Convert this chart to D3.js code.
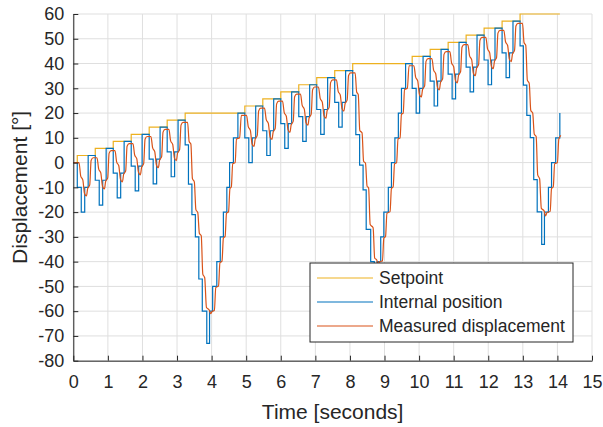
<!DOCTYPE html>
<html lang="en">
<head>
<meta charset="UTF-8">
<title>Displacement vs time</title>
<script src="https://d3js.org/d3.v7.min.js"></script>
<style>
  body { margin: 0; background: #fff; }
  svg text { font-family: "Liberation Sans", Arial, Helvetica, sans-serif; fill: #262626; }
  .grid line { stroke: #dfdfdf; stroke-width: 1; }
  .series { fill: none; stroke-width: 1.2; }
  .axis path, .axis line { stroke: #262626; }
</style>
</head>
<body>
<svg id="chart" width="603" height="427"></svg>
<script>
// tick values
const xTicks = [0, 1, 2, 3, 4, 5, 6, 7, 8, 9, 10, 11, 12, 13, 14, 15];
const yTicks = [-80, -70, -60, -50, -40, -30, -20, -10, 0, 10, 20, 30, 40, 50, 60];

// setpoint (step series) : time [s], value [deg]
const setpointT = [0, 0.115, 0.635, 1.155, 1.675, 2.195, 2.715, 3.235,
  4.96, 5.48, 6.0, 6.52, 7.04, 7.56, 8.08,
  9.8, 10.32, 10.84, 11.36, 11.88, 12.4, 12.92, 14.07];
const setpointV = [0, 2.86, 5.71, 8.57, 11.43, 14.29, 17.14, 20,
  22.86, 25.71, 28.57, 31.43, 34.29, 37.14, 40,
  42.86, 45.71, 48.57, 51.43, 54.29, 57.14, 60, 60];

// internal position (step series) [t, value]
const internalPos = [
  [0, 0],
  [0.115, -10], [0.23, -20], [0.33, -10], [0.43, 2.86],
  [0.635, -7.14], [0.75, -17.14], [0.85, -7.14], [0.95, 5.71],
  [1.155, -4.29], [1.27, -14.29], [1.37, -4.29], [1.47, 8.57],
  [1.675, -1.43], [1.79, -11.43], [1.89, -1.43], [1.99, 11.43],
  [2.195, 1.43], [2.31, -8.57], [2.41, 1.43], [2.51, 14.29],
  [2.715, 4.29], [2.83, -5.71], [2.93, 4.29], [3.03, 17.14],
  [3.235, 7.14], [3.33, -8.7], [3.43, -21], [3.53, -30], [3.63, -47], [3.73, -60], [3.86, -73],
  [3.94, -60], [4.03, -50], [4.15, -40], [4.25, -30], [4.34, -20], [4.44, -10], [4.52, 0], [4.63, 10], [4.76, 20],
  [4.96, 10], [5.075, 0], [5.175, 10], [5.275, 22.86],
  [5.48, 12.86], [5.595, 2.86], [5.695, 12.86], [5.795, 25.71],
  [6.0, 15.71], [6.115, 5.71], [6.215, 15.71], [6.315, 28.57],
  [6.52, 18.57], [6.635, 8.57], [6.735, 18.57], [6.835, 31.43],
  [7.04, 21.43], [7.155, 11.43], [7.255, 21.43], [7.355, 34.29],
  [7.56, 24.29], [7.675, 14.29], [7.775, 24.29], [7.875, 37.14],
  [8.08, 27.14], [8.17, 11.3], [8.28, -1], [8.38, -11], [8.47, -27], [8.6, -40], [8.705, -53],
  [8.785, -40], [8.89, -30], [8.98, -20], [9.11, -10], [9.2, 0], [9.3, 10], [9.4, 20], [9.49, 30], [9.61, 40],
  [9.8, 30], [9.915, 20], [10.015, 30], [10.115, 42.86],
  [10.32, 32.86], [10.435, 22.86], [10.535, 32.86], [10.635, 45.71],
  [10.84, 35.71], [10.955, 25.71], [11.055, 35.71], [11.155, 48.57],
  [11.36, 38.57], [11.475, 28.57], [11.575, 38.57], [11.675, 51.43],
  [11.88, 41.43], [11.995, 31.43], [12.095, 41.43], [12.195, 54.29],
  [12.4, 44.29], [12.515, 34.29], [12.615, 44.29], [12.715, 57.14],
  [12.92, 47.14], [13.015, 31.3], [13.115, 19.1], [13.215, 10.1], [13.315, -6.9], [13.415, -19.9], [13.545, -33],
  [13.625, -20], [13.74, -10], [13.83, 0], [13.95, 10], [14.07, 20]
];

// measured displacement [t, value]
const measuredDisp = [
  [0, 0],
  [0.165, 0], [0.215, -5.5], [0.275, -7], [0.325, -12.5], [0.38, -13.5], [0.415, -10.5], [0.475, -9], [0.515, 0.86], [0.575, 1.96],
  [0.685, 1.96], [0.735, -2.64], [0.795, -4.14], [0.845, -9.64], [0.9, -10.64], [0.935, -7.64], [0.995, -6.14], [1.035, 3.71], [1.095, 4.81],
  [1.205, 4.81], [1.255, 0.21], [1.315, -1.29], [1.365, -6.79], [1.42, -7.79], [1.455, -4.79], [1.515, -3.29], [1.555, 6.57], [1.615, 7.67],
  [1.725, 7.67], [1.775, 3.07], [1.835, 1.57], [1.885, -3.93], [1.94, -4.93], [1.975, -1.93], [2.035, -0.43], [2.075, 9.43], [2.135, 10.53],
  [2.245, 10.53], [2.295, 5.93], [2.355, 4.43], [2.405, -1.07], [2.46, -2.07], [2.495, 0.93], [2.555, 2.43], [2.595, 12.29], [2.655, 13.39],
  [2.765, 13.39], [2.815, 8.79], [2.875, 7.29], [2.925, 1.79], [2.98, 0.79], [3.015, 3.79], [3.075, 5.29], [3.115, 15.14], [3.175, 16.24],
  [3.305, 16.24], [3.35, 8.5], [3.4, 7.5], [3.445, -6.5], [3.5, -7.8], [3.545, -19], [3.6, -20.2], [3.645, -28.5], [3.7, -29.5],
  [3.745, -45], [3.8, -46.5], [3.85, -58.5], [3.93, -59.5], [3.97, -61], [4.02, -60], [4.08, -59.7], [4.12, -50.5], [4.2, -49.8],
  [4.24, -40.5], [4.3, -39.8], [4.34, -30.5], [4.39, -29.8], [4.43, -20.5], [4.49, -19.8], [4.53, -10.5], [4.57, -9.8], [4.61, -0.5],
  [4.68, 0], [4.72, 9.5], [4.81, 10], [4.86, 19.1],
  [5.01, 19.1], [5.06, 14.5], [5.12, 13], [5.17, 7.5], [5.225, 6.5], [5.26, 9.5], [5.32, 11], [5.36, 20.86], [5.42, 21.96],
  [5.53, 21.96], [5.58, 17.36], [5.64, 15.86], [5.69, 10.36], [5.745, 9.36], [5.78, 12.36], [5.84, 13.86], [5.88, 23.71], [5.94, 24.81],
  [6.05, 24.81], [6.1, 20.21], [6.16, 18.71], [6.21, 13.21], [6.265, 12.21], [6.3, 15.21], [6.36, 16.71], [6.4, 26.57], [6.46, 27.67],
  [6.57, 27.67], [6.62, 23.07], [6.68, 21.57], [6.73, 16.07], [6.785, 15.07], [6.82, 18.07], [6.88, 19.57], [6.92, 29.43], [6.98, 30.53],
  [7.09, 30.53], [7.14, 25.93], [7.2, 24.43], [7.25, 18.93], [7.305, 17.93], [7.34, 20.93], [7.4, 22.43], [7.44, 32.29], [7.5, 33.39],
  [7.61, 33.39], [7.66, 28.79], [7.72, 27.29], [7.77, 21.79], [7.825, 20.79], [7.86, 23.79], [7.92, 25.29], [7.96, 35.14], [8.02, 36.24],
  [8.15, 36.24], [8.195, 28.5], [8.24, 27.5], [8.285, 13], [8.35, 12], [8.395, 0.5], [8.45, -0.3], [8.495, -9.5], [8.54, -10.3],
  [8.585, -25], [8.67, -26.3], [8.715, -38.5], [8.775, -39.3], [8.815, -41], [8.86, -40], [8.94, -39.7], [8.98, -30.5], [9.03, -29.8],
  [9.07, -20.5], [9.16, -19.8], [9.2, -10.5], [9.25, -9.8], [9.29, -0.5], [9.35, 0], [9.39, 9.5], [9.45, 10], [9.49, 19.5], [9.54, 20],
  [9.58, 29.5], [9.66, 30], [9.71, 39.1],
  [9.85, 39.1], [9.9, 34.5], [9.96, 33], [10.01, 27.5], [10.065, 26.5], [10.1, 29.5], [10.16, 31], [10.2, 40.86], [10.26, 41.96],
  [10.37, 41.96], [10.42, 37.36], [10.48, 35.86], [10.53, 30.36], [10.585, 29.36], [10.62, 32.36], [10.68, 33.86], [10.72, 43.71], [10.78, 44.81],
  [10.89, 44.81], [10.94, 40.21], [11.0, 38.71], [11.05, 33.21], [11.105, 32.21], [11.14, 35.21], [11.2, 36.71], [11.24, 46.57], [11.3, 47.67],
  [11.41, 47.67], [11.46, 43.07], [11.52, 41.57], [11.57, 36.07], [11.625, 35.07], [11.66, 38.07], [11.72, 39.57], [11.76, 49.43], [11.82, 50.53],
  [11.93, 50.53], [11.98, 45.93], [12.04, 44.43], [12.09, 38.93], [12.145, 37.93], [12.18, 40.93], [12.24, 42.43], [12.28, 52.29], [12.34, 53.39],
  [12.45, 53.39], [12.5, 48.79], [12.56, 47.29], [12.61, 41.79], [12.665, 40.79], [12.7, 43.79], [12.76, 45.29], [12.8, 55.14], [12.86, 56.24],
  [12.99, 56.24], [13.035, 48.5], [13.085, 47.3], [13.13, 33.3], [13.185, 32], [13.23, 21], [13.285, 20], [13.33, 11.5], [13.385, 10.5],
  [13.43, -5], [13.485, -6.5], [13.535, -18.5], [13.615, -19.5], [13.655, -21.5], [13.7, -20.2], [13.79, -19.7], [13.83, -10.5],
  [13.88, -9.8], [13.92, -0.5], [14.0, 0], [14.04, 9.5], [14.1, 11]
];

const legendLabels = ["Setpoint", "Internal position", "Measured displacement"];
const colors = ["#EDB120", "#0072BD", "#D95319"];

const width = 603;
const height = 427;
const margin = { top: 14, right: 11, bottom: 66.3, left: 73.3 };

const svg = d3.select("#chart");

const x = d3.scaleLinear().domain([0, 15]).range([margin.left, width - margin.right]);
const y = d3.scaleLinear().domain([-80, 60]).range([height - margin.bottom, margin.top]);

// grid
const grid = svg.append("g").attr("class", "grid");
grid.selectAll(".gx").data(xTicks).enter().append("line")
  .attr("x1", d => x(d)).attr("x2", d => x(d))
  .attr("y1", y(-80)).attr("y2", y(60));
grid.selectAll(".gy").data(yTicks).enter().append("line")
  .attr("x1", x(0)).attr("x2", x(15))
  .attr("y1", d => y(d)).attr("y2", d => y(d));

// series
const setpoint = setpointT.map((t, i) => [t, setpointV[i]]);

const stepLine = d3.line().x(d => x(d[0])).y(d => y(d[1])).curve(d3.curveStepAfter);
const smoothLine = d3.line().x(d => x(d[0])).y(d => y(d[1])).curve(d3.curveMonotoneX);

svg.append("path").attr("class", "series").attr("stroke", colors[0]).attr("d", stepLine(setpoint));
svg.append("path").attr("class", "series").attr("stroke", colors[1]).attr("d", stepLine(internalPos));
svg.append("path").attr("class", "series").attr("stroke", colors[2]).attr("d", smoothLine(measuredDisp));

// axes
const fmt = d => String(d);
svg.append("g").attr("class", "axis")
  .attr("transform", `translate(0,${y(-80)})`)
  .call(d3.axisBottom(x).tickValues(xTicks).tickFormat(fmt).tickSize(-5).tickSizeOuter(0).tickPadding(15));
svg.append("g").attr("class", "axis")
  .attr("transform", `translate(${x(0)},0)`)
  .call(d3.axisLeft(y).tickValues(yTicks).tickFormat(fmt).tickSize(-5).tickSizeOuter(0).tickPadding(9));
svg.selectAll(".axis text").style("font-size", "18px").attr("fill", "#262626");

// axis labels
svg.append("text")
  .attr("x", (x(0) + x(15)) / 2).attr("y", 419)
  .attr("text-anchor", "middle").style("font-size", "21px")
  .text("Time [seconds]");
svg.append("text")
  .attr("transform", `translate(27,${(y(-80) + y(60)) / 2}) rotate(-90)`)
  .attr("text-anchor", "middle").style("font-size", "21px")
  .text("Displacement [°]");

// legend
const legend = svg.append("g").attr("transform", "translate(310,263)");
legend.append("rect")
  .attr("width", 263).attr("height", 79)
  .attr("fill", "#fff").attr("stroke", "#262626").attr("stroke-width", 1);
legendLabels.forEach((label, i) => {
  const ly = 15 + i * 24;
  legend.append("line")
    .attr("x1", 7).attr("x2", 63).attr("y1", ly).attr("y2", ly)
    .attr("stroke", colors[i]).attr("stroke-width", 1.2);
  legend.append("text")
    .attr("x", 69).attr("y", ly).attr("dy", "0.35em")
    .style("font-size", "17.5px")
    .text(label);
});
</script>
</body>
</html>
